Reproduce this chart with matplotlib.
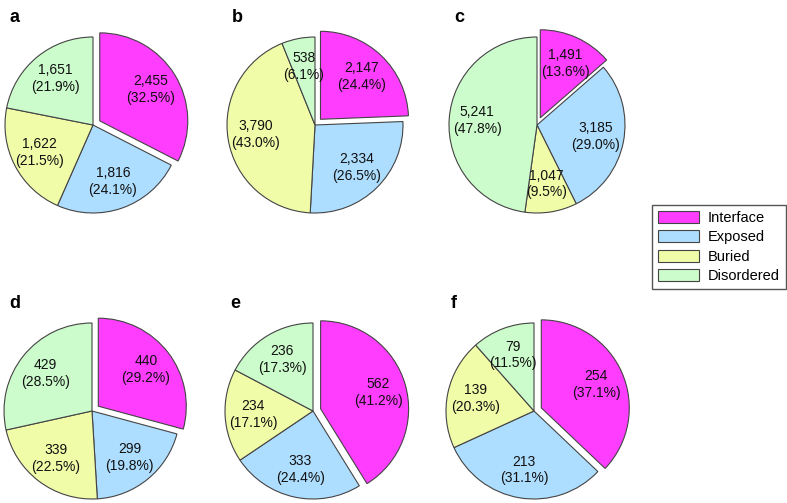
import matplotlib
matplotlib.use("Agg")
import matplotlib.pyplot as plt
from matplotlib.patches import Patch

plt.rcParams['font.family'] = ['Liberation Sans', 'DejaVu Sans']

categories = ["Interface", "Exposed", "Buried", "Disordered"]
colors = ["#ff3dff", "#aedeff", "#f0fca8", "#ccfccc"]

panel_a = [2455, 1816, 1622, 1651]
panel_b = [2147, 2334, 3790, 538]
panel_c = [1491, 3185, 1047, 5241]
panel_d = [440, 299, 339, 429]
panel_e = [562, 333, 234, 236]
panel_f = [254, 213, 139, 79]

panels = [("a", panel_a), ("b", panel_b), ("c", panel_c),
          ("d", panel_d), ("e", panel_e), ("f", panel_f)]

W, H = 787, 503
fig = plt.figure(figsize=(W / 100, H / 100), dpi=100)

# pie centres in pixels (from top-left) and radius
centres = [(93, 125), (315, 125), (537, 125), (92, 411), (313, 411), (534, 411)]
R = 88
pad = 1.15

for (tag, vals), (cx, cy) in zip(panels, centres):
    half = R * pad
    ax = fig.add_axes([(cx - half) / W, 1 - (cy + half) / H, 2 * half / W, 2 * half / H])
    total = sum(vals)
    txt = iter(["{:,}\n({:.1f}%)".format(v, 100 * v / total) for v in vals])
    wedges, _, autos = ax.pie(vals, colors=colors, startangle=90, counterclock=False,
                              explode=(0.09, 0, 0, 0), autopct=lambda p: next(txt),
                              pctdistance=0.68, radius=1,
                              wedgeprops=dict(edgecolor="#444444", linewidth=0.8),
                              textprops=dict(fontsize=10, color="#111111"))
    for t in autos:
        t.set_linespacing(1.25)
    ax.set_xlim(-pad, pad)
    ax.set_ylim(-pad, pad)
    ax.set_aspect("equal")
    ax.axis("off")
    fig.text((cx - 83) / W, 1 - (cy - 107) / H, tag, fontsize=13, fontweight="bold",
             va="center", ha="left")

handles = [Patch(facecolor=c, edgecolor="#444444", linewidth=0.8) for c in colors]
fig.legend(handles, categories, loc="center", bbox_to_anchor=(719 / W, 1 - 247 / H),
           fontsize=10.5, frameon=True, fancybox=False, edgecolor="#555555",
           handlelength=2.8, handleheight=0.9, handletextpad=0.6, labelspacing=0.35,
           borderpad=0.4, framealpha=1)

fig.savefig("out.png", dpi=100)
